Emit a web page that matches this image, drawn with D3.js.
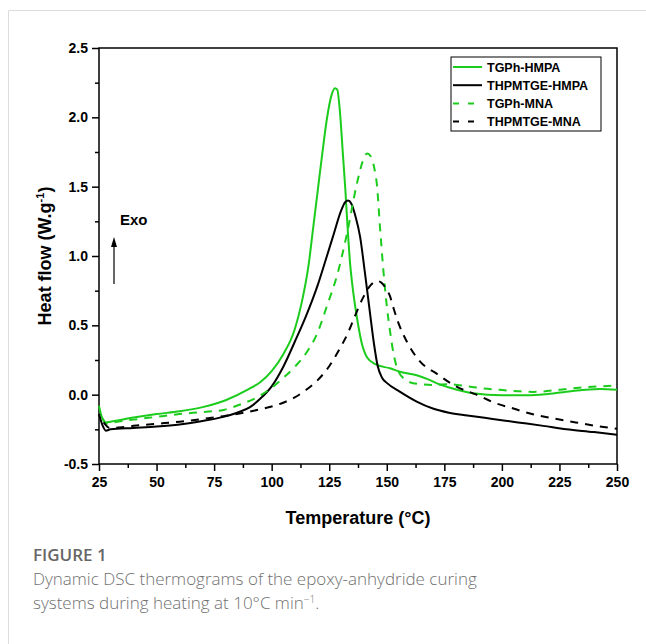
<!DOCTYPE html>
<html>
<head>
<meta charset="utf-8">
<script src="https://cdn.jsdelivr.net/npm/d3@7"></script>
<style>
  body { margin: 0; background: #fff; }
  #chart { width: 646px; height: 644px; }
</style>
</head>
<body>
<div id="chart"></div>
<script>
// DSC thermograms: [temperature (°C), heat flow (W/g)]
const tgphHmpa = [
  [25, -0.08], [26, -0.15], [28, -0.2], [30, -0.195], [40, -0.165], [50, -0.14], [60, -0.12],
  [70, -0.09], [80, -0.04], [90, 0.04], [95, 0.09], [100, 0.17], [105, 0.29], [110, 0.47],
  [113, 0.66], [116, 0.93], [118, 1.2], [120, 1.47], [122, 1.74], [124, 1.99], [126, 2.16],
  [127.5, 2.21], [128.5, 2.2], [129.5, 2.07], [131, 1.72], [132, 1.48], [133, 1.2], [134, 0.96],
  [135.5, 0.73], [137, 0.56], [139, 0.38], [141.4, 0.27], [145, 0.22], [151.4, 0.19], [157, 0.16],
  [163, 0.14], [168, 0.11], [172, 0.08], [177.5, 0.05], [187.5, 0.01], [200, -0.005], [211, -0.005],
  [220, 0.005], [230, 0.025], [242.6, 0.04], [250, 0.035]
];
const thpmtgeHmpa = [
  [25, -0.14], [26.5, -0.22], [28, -0.26], [30, -0.25], [40, -0.24], [50, -0.23], [60, -0.215],
  [70, -0.19], [79, -0.16], [85, -0.13], [90.6, -0.09], [95, -0.03], [100, 0.06], [105, 0.2],
  [110, 0.38], [115, 0.57], [120, 0.79], [124, 1.0], [127, 1.16], [130, 1.32], [132, 1.39],
  [133.2, 1.4], [134.5, 1.38], [136.5, 1.28], [138.4, 1.14], [140.5, 0.88], [142.7, 0.59],
  [144.5, 0.36], [146, 0.21], [148, 0.12], [150, 0.085], [155.8, 0.02], [163, -0.05], [170, -0.1],
  [177, -0.13], [185, -0.15], [196, -0.175], [207, -0.2], [218, -0.225], [228, -0.25], [240, -0.27],
  [250, -0.29]
];
const tgphMna = [
  [26.5, -0.17], [28.5, -0.21], [30, -0.205], [40, -0.18], [50, -0.16], [60, -0.14], [70, -0.125],
  [79, -0.11], [88, -0.06], [93.6, -0.02], [100, 0.05], [105, 0.12], [110, 0.2], [115, 0.3],
  [120, 0.45], [124, 0.64], [128.4, 0.86], [132.7, 1.16], [137, 1.52], [139.5, 1.68], [141.5, 1.74],
  [143, 1.72], [144.5, 1.64], [145.8, 1.5], [147, 1.22], [148.4, 0.92], [150, 0.64], [151.4, 0.46],
  [153, 0.29], [155, 0.17], [158, 0.11], [160, 0.09], [165, 0.075], [170, 0.07], [177.5, 0.075],
  [185, 0.06], [192, 0.045], [199, 0.035], [207, 0.025], [213.5, 0.02], [225, 0.035], [237, 0.055],
  [250, 0.065]
];
const thpmtgeMna = [
  [27, -0.2], [29.7, -0.24], [35, -0.235], [40, -0.225], [50, -0.21], [60, -0.195], [70, -0.175],
  [79, -0.155], [88, -0.13], [95, -0.105], [100, -0.085], [105, -0.058], [110, -0.02], [115, 0.035],
  [120, 0.105], [125, 0.205], [129, 0.315], [133, 0.44], [136, 0.56], [139.7, 0.7], [143, 0.79],
  [145.5, 0.82], [147.5, 0.81], [149.5, 0.77], [151.4, 0.71], [153, 0.62], [155, 0.52], [158.8, 0.38],
  [164.4, 0.24], [171.8, 0.15], [180, 0.06], [189, 0.0], [197, -0.06], [205, -0.1], [213, -0.14],
  [222, -0.17], [232, -0.2], [242.6, -0.23], [250, -0.245]
];

const seriesNames = ["TGPh-HMPA", "THPMTGE-HMPA", "TGPh-MNA", "THPMTGE-MNA"];
const xTicks = [25, 50, 75, 100, 125, 150, 175, 200, 225, 250];
const yTicks = [-0.5, 0.0, 0.5, 1.0, 1.5, 2.0, 2.5];

const series = [
  {name: seriesNames[0], values: tgphHmpa, color: "#1ccc1c", dash: null},
  {name: seriesNames[1], values: thpmtgeHmpa, color: "#000", dash: null},
  {name: seriesNames[2], values: tgphMna, color: "#1ccc1c", dash: "8,7"},
  {name: seriesNames[3], values: thpmtgeMna, color: "#000", dash: "8,7"}
];

const svg = d3.select("#chart").append("svg")
  .attr("width", 646)
  .attr("height", 644);

// card outline (left + top)
svg.append("path")
  .attr("d", "M8.5,644 L8.5,10.5 L646,10.5")
  .attr("fill", "none")
  .attr("stroke", "#dcdcdc")
  .attr("stroke-width", 1);

const margin = {top: 48, left: 99, right: 29, bottom: 180};
const width = 646 - margin.left - margin.right;
const height = 644 - margin.top - margin.bottom;

const g = svg.append("g").attr("transform", `translate(${margin.left},${margin.top})`);

const x = d3.scaleLinear().domain([25, 250]).range([0, width]);
const y = d3.scaleLinear().domain([-0.5, 2.5]).range([height, 0]);

const font = "'Liberation Sans', Arial, sans-serif";

// minor ticks
g.append("g")
  .attr("transform", `translate(0,${height})`)
  .call(d3.axisBottom(x).tickValues(d3.range(37.5, 250, 25)).tickSize(4).tickFormat(""))
  .call(a => a.select(".domain").remove())
  .selectAll("line").attr("stroke-width", 1.5);
g.append("g")
  .call(d3.axisLeft(y).tickValues(d3.range(-0.25, 2.5, 0.5)).tickSize(4).tickFormat(""))
  .call(a => a.select(".domain").remove())
  .selectAll("line").attr("stroke-width", 1.5);

// major ticks
const xAxis = g.append("g")
  .attr("transform", `translate(0,${height})`)
  .call(d3.axisBottom(x).tickValues(xTicks).tickSize(7).tickPadding(6).tickFormat(d => d));
xAxis.select(".domain").remove();
xAxis.selectAll("line").attr("stroke-width", 1.5);
xAxis.selectAll("text")
  .style("font-family", font).style("font-size", "14px").style("font-weight", "bold").attr("fill", "#000");

const yAxis = g.append("g")
  .call(d3.axisLeft(y).tickValues(yTicks).tickSize(7).tickPadding(4).tickFormat(d => d.toFixed(1)));
yAxis.select(".domain").remove();
yAxis.selectAll("line").attr("stroke-width", 1.5);
yAxis.selectAll("text")
  .style("font-family", font).style("font-size", "14px").style("font-weight", "bold").attr("fill", "#000");

// frame
g.append("rect")
  .attr("width", width).attr("height", height)
  .attr("fill", "none").attr("stroke", "#000").attr("stroke-width", 1.5);

// curves
const line = d3.line()
  .x(d => x(d[0]))
  .y(d => y(d[1]))
  .curve(d3.curveMonotoneX);

series.forEach(s => {
  g.append("path")
    .datum(s.values)
    .attr("fill", "none")
    .attr("stroke", s.color)
    .attr("stroke-width", 2)
    .attr("stroke-dasharray", s.dash)
    .attr("d", line);
});

// axis titles
g.append("text")
  .attr("x", width / 2)
  .attr("y", height + 60)
  .attr("text-anchor", "middle")
  .style("font-family", font).style("font-size", "18px").style("font-weight", "bold")
  .text("Temperature (°C)");

const yTitle = g.append("text")
  .attr("transform", `translate(-48,${height / 2}) rotate(-90)`)
  .attr("text-anchor", "middle")
  .style("font-family", font).style("font-size", "18px").style("font-weight", "bold");
yTitle.append("tspan").text("Heat flow (W.g");
yTitle.append("tspan").attr("dy", -7).style("font-size", "11px").text("-1");
yTitle.append("tspan").attr("dy", 7).text(")");

// Exo arrow
g.append("line")
  .attr("x1", 15).attr("x2", 15)
  .attr("y1", 236).attr("y2", 193)
  .attr("stroke", "#000").attr("stroke-width", 1.2);
g.append("path")
  .attr("d", "M15,189 L12,199 L18,199 Z")
  .attr("fill", "#000");
g.append("text")
  .attr("x", 21).attr("y", 177)
  .style("font-family", font).style("font-size", "15px").style("font-weight", "bold")
  .text("Exo");

// legend
const legend = g.append("g").attr("transform", `translate(${width - 166},9)`);
legend.append("rect")
  .attr("width", 150).attr("height", 74)
  .attr("fill", "#fff").attr("stroke", "#000").attr("stroke-width", 1);
series.forEach((s, i) => {
  const row = legend.append("g").attr("transform", `translate(0,${10 + i * 18.2})`);
  row.append("line")
    .attr("x1", 2).attr("x2", 31)
    .attr("stroke", s.color).attr("stroke-width", 2)
    .attr("stroke-dasharray", s.dash ? "6,9" : null);
  row.append("text")
    .attr("x", 36).attr("y", 4.5)
    .style("font-family", font).style("font-size", "12.5px").style("font-weight", "bold")
    .text(s.name);
});

// caption
const capFont = "'Open Sans', 'Noto Sans', sans-serif";
svg.append("text")
  .attr("x", 33).attr("y", 561)
  .attr("fill", "#666")
  .style("font-family", capFont).style("font-size", "17px").style("font-weight", "600")
  .text("FIGURE 1");
svg.append("text")
  .attr("x", 33).attr("y", 585)
  .attr("fill", "#707070")
  .style("font-family", capFont).style("font-size", "17px").style("font-weight", "300")
  .text("Dynamic DSC thermograms of the epoxy-anhydride curing");
const cap2 = svg.append("text")
  .attr("x", 33).attr("y", 609)
  .attr("fill", "#707070")
  .style("font-family", capFont).style("font-size", "17px").style("font-weight", "300");
cap2.append("tspan").text("systems during heating at 10°C min");
cap2.append("tspan").attr("dy", -6).style("font-size", "10px").text("−1");
cap2.append("tspan").attr("dy", 6).text(".");
</script>
</body>
</html>
